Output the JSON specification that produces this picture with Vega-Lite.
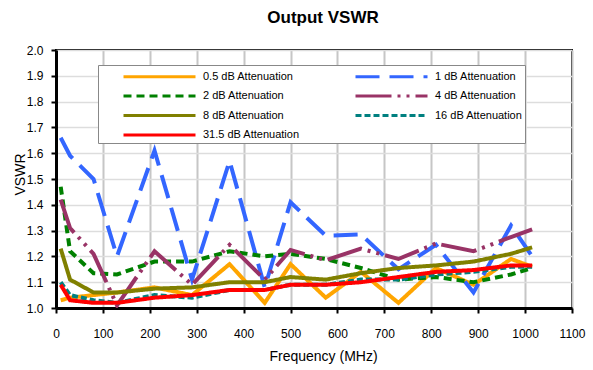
{
  "$schema": "https://vega.github.io/schema/vega-lite/v6.json",
  "width": 516,
  "height": 258,
  "autosize": {"type": "none"},
  "padding": {"left": 56, "top": 50, "right": 21, "bottom": 62},
  "background": "white",
  "title": {"text": "Output VSWR", "fontSize": 17, "font": "Liberation Sans", "fontWeight": "bold", "color": "black", "dx": 9, "offset": 17},
  "config": {
    "view": {"stroke": "black", "strokeWidth": 2},
    "axis": {"labelFont": "Liberation Sans", "titleFont": "Liberation Sans", "labelColor": "black", "titleColor": "black", "titleFontWeight": "normal", "domainColor": "black", "tickColor": "black"}
  },
  "data": {"values": [
    {"s": "0.5 dB Attenuation", "f": 10, "v": 1.03}, {"s": "0.5 dB Attenuation", "f": 30, "v": 1.04}, {"s": "0.5 dB Attenuation", "f": 80, "v": 1.05}, {"s": "0.5 dB Attenuation", "f": 130, "v": 1.06}, {"s": "0.5 dB Attenuation", "f": 210, "v": 1.08}, {"s": "0.5 dB Attenuation", "f": 290, "v": 1.05}, {"s": "0.5 dB Attenuation", "f": 370, "v": 1.17}, {"s": "0.5 dB Attenuation", "f": 445, "v": 1.02}, {"s": "0.5 dB Attenuation", "f": 500, "v": 1.17}, {"s": "0.5 dB Attenuation", "f": 575, "v": 1.04}, {"s": "0.5 dB Attenuation", "f": 650, "v": 1.14}, {"s": "0.5 dB Attenuation", "f": 730, "v": 1.02}, {"s": "0.5 dB Attenuation", "f": 810, "v": 1.155}, {"s": "0.5 dB Attenuation", "f": 890, "v": 1.09}, {"s": "0.5 dB Attenuation", "f": 970, "v": 1.19}, {"s": "0.5 dB Attenuation", "f": 1015, "v": 1.16},
    {"s": "1 dB Attenuation", "f": 10, "v": 1.66}, {"s": "1 dB Attenuation", "f": 30, "v": 1.59}, {"s": "1 dB Attenuation", "f": 80, "v": 1.5}, {"s": "1 dB Attenuation", "f": 130, "v": 1.2}, {"s": "1 dB Attenuation", "f": 210, "v": 1.61}, {"s": "1 dB Attenuation", "f": 290, "v": 1.11}, {"s": "1 dB Attenuation", "f": 370, "v": 1.57}, {"s": "1 dB Attenuation", "f": 445, "v": 1.08}, {"s": "1 dB Attenuation", "f": 500, "v": 1.41}, {"s": "1 dB Attenuation", "f": 575, "v": 1.28}, {"s": "1 dB Attenuation", "f": 650, "v": 1.285}, {"s": "1 dB Attenuation", "f": 730, "v": 1.15}, {"s": "1 dB Attenuation", "f": 810, "v": 1.245}, {"s": "1 dB Attenuation", "f": 890, "v": 1.06}, {"s": "1 dB Attenuation", "f": 970, "v": 1.32}, {"s": "1 dB Attenuation", "f": 1015, "v": 1.2},
    {"s": "2 dB Attenuation", "f": 10, "v": 1.47}, {"s": "2 dB Attenuation", "f": 30, "v": 1.22}, {"s": "2 dB Attenuation", "f": 80, "v": 1.135}, {"s": "2 dB Attenuation", "f": 130, "v": 1.13}, {"s": "2 dB Attenuation", "f": 210, "v": 1.18}, {"s": "2 dB Attenuation", "f": 290, "v": 1.18}, {"s": "2 dB Attenuation", "f": 370, "v": 1.22}, {"s": "2 dB Attenuation", "f": 445, "v": 1.2}, {"s": "2 dB Attenuation", "f": 500, "v": 1.21}, {"s": "2 dB Attenuation", "f": 575, "v": 1.19}, {"s": "2 dB Attenuation", "f": 650, "v": 1.155}, {"s": "2 dB Attenuation", "f": 730, "v": 1.11}, {"s": "2 dB Attenuation", "f": 810, "v": 1.12}, {"s": "2 dB Attenuation", "f": 890, "v": 1.1}, {"s": "2 dB Attenuation", "f": 970, "v": 1.13}, {"s": "2 dB Attenuation", "f": 1015, "v": 1.155},
    {"s": "4 dB Attenuation", "f": 10, "v": 1.42}, {"s": "4 dB Attenuation", "f": 30, "v": 1.31}, {"s": "4 dB Attenuation", "f": 80, "v": 1.21}, {"s": "4 dB Attenuation", "f": 130, "v": 1.01}, {"s": "4 dB Attenuation", "f": 210, "v": 1.22}, {"s": "4 dB Attenuation", "f": 290, "v": 1.09}, {"s": "4 dB Attenuation", "f": 370, "v": 1.245}, {"s": "4 dB Attenuation", "f": 445, "v": 1.11}, {"s": "4 dB Attenuation", "f": 500, "v": 1.225}, {"s": "4 dB Attenuation", "f": 575, "v": 1.185}, {"s": "4 dB Attenuation", "f": 650, "v": 1.23}, {"s": "4 dB Attenuation", "f": 730, "v": 1.19}, {"s": "4 dB Attenuation", "f": 810, "v": 1.25}, {"s": "4 dB Attenuation", "f": 890, "v": 1.22}, {"s": "4 dB Attenuation", "f": 970, "v": 1.275}, {"s": "4 dB Attenuation", "f": 1015, "v": 1.305},
    {"s": "8 dB Attenuation", "f": 10, "v": 1.23}, {"s": "8 dB Attenuation", "f": 30, "v": 1.11}, {"s": "8 dB Attenuation", "f": 80, "v": 1.06}, {"s": "8 dB Attenuation", "f": 130, "v": 1.06}, {"s": "8 dB Attenuation", "f": 210, "v": 1.075}, {"s": "8 dB Attenuation", "f": 290, "v": 1.08}, {"s": "8 dB Attenuation", "f": 370, "v": 1.1}, {"s": "8 dB Attenuation", "f": 445, "v": 1.1}, {"s": "8 dB Attenuation", "f": 500, "v": 1.12}, {"s": "8 dB Attenuation", "f": 575, "v": 1.11}, {"s": "8 dB Attenuation", "f": 650, "v": 1.135}, {"s": "8 dB Attenuation", "f": 730, "v": 1.155}, {"s": "8 dB Attenuation", "f": 810, "v": 1.165}, {"s": "8 dB Attenuation", "f": 890, "v": 1.18}, {"s": "8 dB Attenuation", "f": 970, "v": 1.21}, {"s": "8 dB Attenuation", "f": 1015, "v": 1.235},
    {"s": "16 dB Attenuation", "f": 10, "v": 1.1}, {"s": "16 dB Attenuation", "f": 30, "v": 1.05}, {"s": "16 dB Attenuation", "f": 80, "v": 1.03}, {"s": "16 dB Attenuation", "f": 130, "v": 1.02}, {"s": "16 dB Attenuation", "f": 210, "v": 1.05}, {"s": "16 dB Attenuation", "f": 290, "v": 1.04}, {"s": "16 dB Attenuation", "f": 370, "v": 1.07}, {"s": "16 dB Attenuation", "f": 445, "v": 1.07}, {"s": "16 dB Attenuation", "f": 500, "v": 1.09}, {"s": "16 dB Attenuation", "f": 575, "v": 1.09}, {"s": "16 dB Attenuation", "f": 650, "v": 1.11}, {"s": "16 dB Attenuation", "f": 730, "v": 1.11}, {"s": "16 dB Attenuation", "f": 810, "v": 1.13}, {"s": "16 dB Attenuation", "f": 890, "v": 1.14}, {"s": "16 dB Attenuation", "f": 970, "v": 1.16}, {"s": "16 dB Attenuation", "f": 1015, "v": 1.16},
    {"s": "31.5 dB Attenuation", "f": 10, "v": 1.09}, {"s": "31.5 dB Attenuation", "f": 30, "v": 1.03}, {"s": "31.5 dB Attenuation", "f": 80, "v": 1.02}, {"s": "31.5 dB Attenuation", "f": 130, "v": 1.02}, {"s": "31.5 dB Attenuation", "f": 210, "v": 1.04}, {"s": "31.5 dB Attenuation", "f": 290, "v": 1.05}, {"s": "31.5 dB Attenuation", "f": 370, "v": 1.07}, {"s": "31.5 dB Attenuation", "f": 445, "v": 1.07}, {"s": "31.5 dB Attenuation", "f": 500, "v": 1.09}, {"s": "31.5 dB Attenuation", "f": 575, "v": 1.09}, {"s": "31.5 dB Attenuation", "f": 650, "v": 1.1}, {"s": "31.5 dB Attenuation", "f": 730, "v": 1.12}, {"s": "31.5 dB Attenuation", "f": 810, "v": 1.14}, {"s": "31.5 dB Attenuation", "f": 890, "v": 1.147}, {"s": "31.5 dB Attenuation", "f": 970, "v": 1.165}, {"s": "31.5 dB Attenuation", "f": 1015, "v": 1.165}
  ]},
  "mark": {"type": "line", "strokeWidth": 4, "strokeJoin": "miter", "strokeCap": "butt", "clip": true},
  "encoding": {
    "x": {"field": "f", "type": "quantitative", "title": "Frequency (MHz)",
      "scale": {"domain": [0, 1100], "nice": false, "zero": false},
      "axis": {"values": [0,100,200,300,400,500,600,700,800,900,1000,1100], "format": "d", "grid": true, "gridColor": "#c6c6c6", "gridWidth": 2, "domainWidth": 3, "tickSize": 5, "tickWidth": 2, "labelFontSize": 12, "labelPadding": 15, "titleFontSize": 14, "titlePadding": 10, "titleX": 267, "titleAlign": "center", "labelFlush": false, "labelOverlap": false}},
    "y": {"field": "v", "type": "quantitative", "title": "VSWR",
      "scale": {"domain": [1, 2], "nice": false, "zero": false},
      "axis": {"values": [1,1.1,1.2,1.3,1.4,1.5,1.6,1.7,1.8,1.9,2], "format": ".1f", "grid": true, "gridColor": "#dddddd", "gridWidth": 1.5, "domainWidth": 3, "tickSize": 5, "tickWidth": 2, "labelFontSize": 12, "labelPadding": 8, "titleFontSize": 14, "titleX": -36, "titleY": 124, "titleAngle": -90, "titleBaseline": "middle", "titleAlign": "center", "labelFlush": false, "labelOverlap": false}},
    "color": {"field": "s", "type": "nominal", "title": null,
      "scale": {"domain": ["0.5 dB Attenuation", "1 dB Attenuation", "2 dB Attenuation", "4 dB Attenuation", "8 dB Attenuation", "16 dB Attenuation", "31.5 dB Attenuation"],
        "range": ["#FFA500", "#3366FF", "#008000", "#993366", "#808000", "#008080", "#FF0000"]},
      "legend": {"orient": "none", "legendX": 42, "legendY": 15, "columns": 2, "direction": "horizontal",
        "symbolType": "M -1 0 H 8", "symbolSize": 256, "symbolStrokeWidth": 3, "symbolOffset": 22,
        "labelFont": "Liberation Sans", "labelFontSize": 11, "labelColor": "black", "labelOffset": 62, "labelLimit": 300,
        "labelExpr": "datum.label + '\u00a0\u00a0\u00a0\u00a0\u00a0\u00a0\u00a0\u00a0'",
        "columnPadding": 32, "rowPadding": 3.5, "padding": 2, "strokeColor": "#888888", "fillColor": "white"}},
    "strokeDash": {"field": "s", "type": "nominal", "title": null,
      "scale": {"domain": ["0.5 dB Attenuation", "1 dB Attenuation", "2 dB Attenuation", "4 dB Attenuation", "8 dB Attenuation", "16 dB Attenuation", "31.5 dB Attenuation"],
        "range": [[1, 0], [24, 10], [8, 5], [36, 6, 3, 6, 3, 6], [1, 0], [6, 3], [1, 0]]}}
  }
}
